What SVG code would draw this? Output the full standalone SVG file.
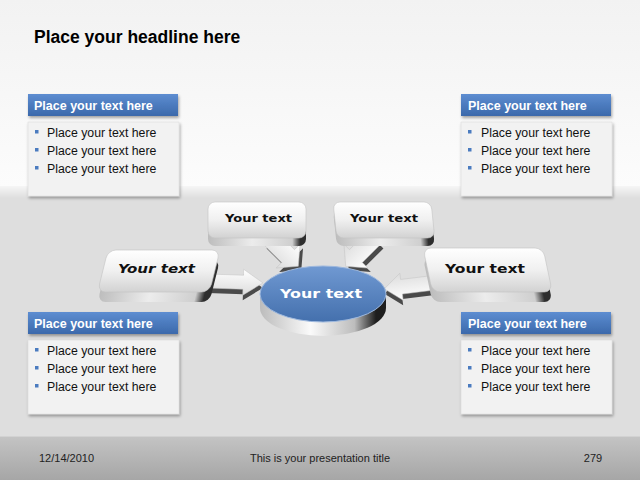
<svg xmlns="http://www.w3.org/2000/svg" xmlns:xlink="http://www.w3.org/1999/xlink" width="640" height="480" viewBox="0 0 640 480">
<defs>
<linearGradient id="bgTop" x1="0" y1="0" x2="0" y2="1"><stop offset="0" stop-color="#f2f2f2"/><stop offset="1" stop-color="#fcfcfc"/></linearGradient>
<linearGradient id="bgBand" x1="0" y1="0" x2="0" y2="1"><stop offset="0" stop-color="#f6f6f6"/><stop offset="1" stop-color="#dedede"/></linearGradient>
<linearGradient id="foot" x1="0" y1="0" x2="0" y2="1"><stop offset="0" stop-color="#c4c4c4"/><stop offset="1" stop-color="#a6a6a6"/></linearGradient>
<linearGradient id="hdr" x1="0" y1="0" x2="0" y2="1"><stop offset="0" stop-color="#5d8dd1"/><stop offset="1" stop-color="#3b69ab"/></linearGradient>
<linearGradient id="face" x1="0" y1="0" x2="0" y2="1"><stop offset="0" stop-color="#ffffff"/><stop offset="0.5" stop-color="#f0f0f0"/><stop offset="1" stop-color="#d2d2d2"/></linearGradient>
<linearGradient id="side" x1="0" y1="0" x2="1" y2="0"><stop offset="0" stop-color="#bdbdbd"/><stop offset="0.45" stop-color="#ececec"/><stop offset="0.86" stop-color="#cfcfcf"/><stop offset="0.94" stop-color="#2e2e2e"/><stop offset="1" stop-color="#2e2e2e"/></linearGradient>
<linearGradient id="disk" x1="0" y1="0" x2="0" y2="1"><stop offset="0" stop-color="#7099d2"/><stop offset="1" stop-color="#4470ad"/></linearGradient>
<linearGradient id="diskSide" x1="0" y1="0" x2="1" y2="0"><stop offset="0" stop-color="#bcbcbc"/><stop offset="0.4" stop-color="#fafafa"/><stop offset="0.75" stop-color="#bdbdbd"/><stop offset="0.92" stop-color="#1e1e1e"/><stop offset="1" stop-color="#1e1e1e"/></linearGradient>
<linearGradient id="arrTop" x1="0" y1="0" x2="0" y2="1"><stop offset="0" stop-color="#ffffff"/><stop offset="1" stop-color="#dcdcdc"/></linearGradient>
<filter id="sh" x="-10%" y="-20%" width="130%" height="150%"><feDropShadow dx="1" dy="2" stdDeviation="1.5" flood-color="#000" flood-opacity="0.35"/></filter>
<path id="arr" d="M0,-7 L32,-7 L32,-13 L50,0 L32,13 L32,7 L0,7 Z"/>
<style>
.hd{font-family:"Liberation Sans",Arial,sans-serif;font-weight:bold;font-size:17.5px;fill:#000}
.ht{font-family:"Liberation Sans",Arial,sans-serif;font-weight:bold;font-size:12.5px;fill:#fff}
.bt{font-family:"Liberation Sans",Arial,sans-serif;font-size:12.3px;fill:#111}
.ft{font-family:"Liberation Sans",Arial,sans-serif;font-size:11px;fill:#222}
.yt{font-family:"DejaVu Sans",Verdana,sans-serif;font-weight:bold;fill:#111}
.body{fill:#f2f2f2;stroke:#d8d8d8;stroke-width:0.5}
.bul{fill:#4a7bbf}
.fc{fill:url(#face);stroke:#c4c4c4;stroke-width:0.6}
.sd{fill:url(#side)}
.aTop{fill:url(#arrTop);stroke:#c4c4c4;stroke-width:0.5}
.aDark{fill:#4a4a4a}
</style>
</defs>

<!-- background -->
<rect x="0" y="0" width="640" height="186" fill="url(#bgTop)"/>
<rect x="0" y="186" width="640" height="12" fill="url(#bgBand)"/>
<rect x="0" y="198" width="640" height="238" fill="#dedede"/>
<rect x="0" y="436" width="640" height="44" fill="url(#foot)"/>
<line x1="0" y1="436.5" x2="640" y2="436.5" stroke="#d2d2d2" stroke-width="1"/>

<text class="hd" x="34" y="43">Place your headline here</text>

<!-- text boxes -->
<g id="box-top-left">
<rect x="28" y="122" width="151" height="74" class="body" filter="url(#sh)"/>
<rect x="28" y="94" width="150" height="22" fill="url(#hdr)" filter="url(#sh)"/>
<text class="ht" x="34" y="110">Place your text here</text>
<rect class="bul" x="35" y="130" width="3.5" height="3.5"/><text class="bt" x="47" y="137">Place your text here</text>
<rect class="bul" x="35" y="148" width="3.5" height="3.5"/><text class="bt" x="47" y="155">Place your text here</text>
<rect class="bul" x="35" y="166" width="3.5" height="3.5"/><text class="bt" x="47" y="173">Place your text here</text>
</g>
<g id="box-top-right">
<rect x="461" y="122" width="151" height="74" class="body" filter="url(#sh)"/>
<rect x="461" y="94" width="150" height="22" fill="url(#hdr)" filter="url(#sh)"/>
<text class="ht" x="468" y="110">Place your text here</text>
<rect class="bul" x="468" y="130" width="3.5" height="3.5"/><text class="bt" x="481" y="137">Place your text here</text>
<rect class="bul" x="468" y="148" width="3.5" height="3.5"/><text class="bt" x="481" y="155">Place your text here</text>
<rect class="bul" x="468" y="166" width="3.5" height="3.5"/><text class="bt" x="481" y="173">Place your text here</text>
</g>
<g id="box-bottom-left">
<rect x="28" y="340" width="151" height="74" class="body" filter="url(#sh)"/>
<rect x="28" y="312" width="150" height="22" fill="url(#hdr)" filter="url(#sh)"/>
<text class="ht" x="34" y="328">Place your text here</text>
<rect class="bul" x="35" y="348" width="3.5" height="3.5"/><text class="bt" x="47" y="355">Place your text here</text>
<rect class="bul" x="35" y="366" width="3.5" height="3.5"/><text class="bt" x="47" y="373">Place your text here</text>
<rect class="bul" x="35" y="384" width="3.5" height="3.5"/><text class="bt" x="47" y="391">Place your text here</text>
</g>
<g id="box-bottom-right">
<rect x="461" y="340" width="151" height="74" class="body" filter="url(#sh)"/>
<rect x="461" y="312" width="150" height="22" fill="url(#hdr)" filter="url(#sh)"/>
<text class="ht" x="468" y="328">Place your text here</text>
<rect class="bul" x="468" y="348" width="3.5" height="3.5"/><text class="bt" x="481" y="355">Place your text here</text>
<rect class="bul" x="468" y="366" width="3.5" height="3.5"/><text class="bt" x="481" y="373">Place your text here</text>
<rect class="bul" x="468" y="384" width="3.5" height="3.5"/><text class="bt" x="481" y="391">Place your text here</text>
</g>

<!-- connectors -->
<g id="connectors">
<use xlink:href="#arr" class="aDark" transform="translate(208,286) rotate(2) scale(1.1,1)"/>
<use xlink:href="#arr" class="aTop" transform="translate(208,281) rotate(2) scale(1.1,1)"/>
<use xlink:href="#arr" class="aDark" transform="translate(273,242) rotate(45) scale(0.8,1.3)"/>
<use xlink:href="#arr" class="aTop" transform="translate(270,238) rotate(45) scale(0.8,1.3)"/>
<use xlink:href="#arr" class="aDark" transform="translate(377,242) rotate(135) scale(0.8,1.3)"/>
<use xlink:href="#arr" class="aTop" transform="translate(374,238) rotate(135) scale(0.8,1.3)"/>
<use xlink:href="#arr" class="aDark" transform="translate(432,288) rotate(173) scale(0.96,1.05)"/>
<use xlink:href="#arr" class="aTop" transform="translate(432,283) rotate(173) scale(0.96,1.05)"/>
</g>

<!-- diagram nodes -->
<g id="node-top-left">
<rect class="sd" x="208" y="210" width="98" height="36" rx="7"/>
<rect class="fc" x="208" y="202" width="98" height="36" rx="7"/>
<text class="yt" x="225" y="222" font-size="11" textLength="67" lengthAdjust="spacingAndGlyphs">Your text</text>
</g>
<g id="node-top-right">
<g transform="translate(333,210) skewX(6)"><rect class="sd" x="0" y="0" width="98" height="36" rx="7"/></g>
<g transform="translate(333,202) skewX(6)"><rect class="fc" x="0" y="0" width="98" height="36" rx="7"/></g>
<text class="yt" x="350" y="222" font-size="11" textLength="68" lengthAdjust="spacingAndGlyphs">Your text</text>
</g>
<g id="node-left">
<g transform="translate(108,260) skewX(-14)"><rect class="sd" x="0" y="0" width="112" height="42" rx="8"/></g>
<g transform="translate(108,250) skewX(-14)"><rect class="fc" x="0" y="0" width="112" height="42" rx="8"/></g>
<text class="yt" x="118" y="273" font-size="12.5" font-style="italic" textLength="77" lengthAdjust="spacingAndGlyphs">Your text</text>
</g>
<g id="node-right">
<g transform="translate(423,258) skewX(12)"><rect class="sd" x="0" y="0" width="120" height="44" rx="8"/></g>
<g transform="translate(423,248) skewX(12)"><rect class="fc" x="0" y="0" width="120" height="44" rx="8"/></g>
<text class="yt" x="445" y="273" font-size="12.5" textLength="80" lengthAdjust="spacingAndGlyphs">Your text</text>
</g>
<g id="node-center">
<path d="M260,294 L260,308 A63,28 0 0 0 386,308 L386,294 Z" fill="url(#diskSide)"/>
<ellipse cx="323" cy="294" rx="63" ry="28" fill="url(#disk)" stroke="#9db8de" stroke-width="1"/>
<text class="yt" x="280" y="298" font-size="13" style="fill:#fff" textLength="82" lengthAdjust="spacingAndGlyphs">Your text</text>
</g>

<!-- footer -->
<text class="ft" x="39" y="462">12/14/2010</text>
<text class="ft" x="320" y="462" text-anchor="middle">This is your presentation title</text>
<text class="ft" x="593" y="462" text-anchor="middle">279</text>
</svg>
